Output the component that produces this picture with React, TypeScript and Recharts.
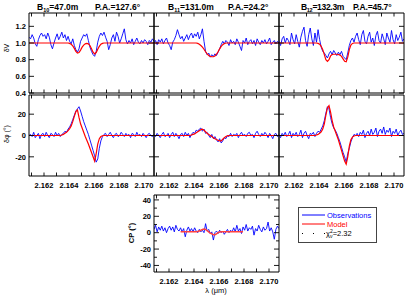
import { LineChart, Line, XAxis, YAxis } from "recharts";

const FONT = '"Liberation Sans", Arial, Helvetica, sans-serif';

// wavelength grid (micron)
const wave = [
  2.1608, 2.160925, 2.16105, 2.161175, 2.1613, 2.161425, 2.16155, 2.161675, 2.1618, 2.161925,
  2.16205, 2.162175, 2.1623, 2.162425, 2.16255, 2.162675, 2.1628, 2.162925, 2.16305, 2.163175,
  2.1633, 2.163425, 2.16355, 2.163675, 2.1638, 2.163925, 2.16405, 2.164175, 2.1643, 2.164425,
  2.16455, 2.164675, 2.1648, 2.164925, 2.16505, 2.165175, 2.1653, 2.165425, 2.16555, 2.165675,
  2.1658, 2.165925, 2.16605, 2.166175, 2.1663, 2.166425, 2.16655, 2.166675, 2.1668, 2.166925,
  2.16705, 2.167175, 2.1673, 2.167425, 2.16755, 2.167675, 2.1678, 2.167925, 2.16805, 2.168175,
  2.1683, 2.168425, 2.16855, 2.168675, 2.1688, 2.168925, 2.16905, 2.169175, 2.1693, 2.169425,
  2.16955, 2.169675, 2.1698, 2.169925, 2.17005, 2.170175, 2.1703, 2.170425, 2.17055, 2.170675,
  2.1708,
];
const modelWave = [wave[0], ...wave.slice(20, 51), wave[80]];
const cpModelWave = wave.slice(17, 58);

const xTicks = [2.161, 2.162, 2.163, 2.164, 2.165, 2.166, 2.167, 2.168, 2.169, 2.17];
const visTicks = [0.4, 0.6, 0.8, 1.0, 1.2];
const phiTicks = [-20, 0, 20];
const cpTicks = [-40, -30, -20, -10, 0, 10, 20, 30, 40];

const baseSub = ["10", "11", "12"];
const baseLen = ["47.0m", "131.0m", "132.3m"];
const posAngle = ["127.6", "24.2", "45.7"];

// visibility (dV)
const visObs10 = [
  1.07, 1.05, 1.1, 1.06, 0.99, 0.96, 1.04, 1.09, 1.12, 1.08, 1.1,
  1.05, 1.12, 1.07, 0.98, 0.93, 1.0, 1.06, 1.11, 1.04, 1.08,
  1.13, 1.06, 1.1, 1.03, 1.08, 1.02, 0.99, 1.05, 0.97, 0.92,
  0.89, 0.93, 1.02, 1.06, 1.1, 1.08, 1.11, 1.03, 0.95, 0.9,
  0.86, 0.84, 0.9, 1.01, 1.08, 1.12, 1.09, 1.13, 1.07, 1.02,
  0.92, 0.98, 1.06, 1.1, 1.02, 1.13, 1.08, 1.0, 1.05, 1.11,
  1.17, 1.04, 0.99, 1.03, 1.0, 1.05, 0.98, 1.02, 1.06, 1.01,
  0.99, 1.03, 1.0, 1.04, 1.02, 0.98, 1.03, 1.01, 1.05, 1.02,
];
const visObs11 = [
  1.0, 1.03, 0.98, 1.04, 1.01, 1.05, 0.99, 1.03, 1.06, 1.0, 0.97,
  0.92, 1.01, 1.04, 1.09, 1.16, 1.1, 1.05, 1.08, 1.02, 1.06,
  1.1, 1.04, 1.09, 1.12, 1.06, 1.11, 1.08, 1.13, 1.05, 1.1,
  1.17, 1.02, 0.9, 0.86, 0.88, 0.83, 0.86, 0.84, 0.87, 0.85,
  0.89, 0.93, 0.98, 1.02, 0.99, 1.03, 1.01, 0.97, 1.04, 1.0,
  1.02, 0.98, 1.05, 1.01, 0.96, 0.91, 1.03, 1.0, 1.06, 0.98,
  1.02, 1.04, 0.99, 1.03, 0.97, 1.05, 1.01, 0.98, 1.03, 1.0,
  1.04, 0.99, 1.02, 1.06, 0.98, 1.01, 1.03, 0.99, 1.02, 1.0,
];
const visObs12 = [
  1.02, 0.97, 1.05, 1.08, 1.0, 1.06, 1.03, 0.98, 1.12, 1.04, 0.99,
  1.1, 1.02, 0.95, 1.07, 1.14, 1.19, 1.03, 0.96, 1.1, 1.18,
  1.05, 0.97, 1.12, 1.01, 1.16, 1.04, 0.95, 0.9, 0.88, 0.85,
  0.82, 0.87, 0.9, 0.86, 0.91, 0.88, 0.85, 0.89, 0.86, 0.9,
  0.84, 0.82, 0.8, 0.88, 0.97, 1.03, 1.06, 1.01, 1.08, 1.12,
  1.04, 0.98, 1.1, 1.15, 1.02, 0.99, 1.08, 1.13, 1.01, 1.06,
  0.97, 1.09, 1.14, 1.03, 1.0, 1.11, 1.05, 0.98, 1.12, 1.06,
  1.01, 1.15, 1.04, 0.99, 1.1, 1.03, 1.07, 1.13, 1.02, 1.05,
];
const visMod10 = [
  1, 1, 1, 1, 1, 1, 1,
  0.995, 0.985, 0.965, 0.935, 0.9, 0.88, 0.885, 0.915, 0.95, 0.975, 0.99,
  0.995, 0.99, 0.97, 0.93, 0.89, 0.87, 0.885, 0.925, 0.96, 0.985, 0.995,
  1, 1, 1, 1,
];
const visMod11 = [
  1, 1, 1, 1, 1, 1, 1, 1, 1,
  0.995, 0.985, 0.97, 0.95, 0.925, 0.895, 0.87, 0.85, 0.84, 0.835,
  0.835, 0.845, 0.865, 0.895, 0.93, 0.96, 0.98, 0.993,
  1, 1, 1, 1, 1, 1,
];
const visMod12 = [
  1, 1, 1, 1, 1, 1,
  0.995, 0.985, 0.96, 0.92, 0.86, 0.8, 0.78, 0.8, 0.845, 0.862, 0.865, 0.865,
  0.865, 0.862, 0.855, 0.84, 0.81, 0.78, 0.775, 0.83, 0.92, 0.975, 0.995,
  1, 1, 1, 1,
];

// differential phase (deg)
const phiObs10 = [
  0, 1, -1, 3, -2, 0, 2, -3, 1, 2, -1,
  3, 0, -2, 2, 1, -1, 3, 0, 2, -1,
  1, 2, 4, 3, 6, 8, 11, 15, 19, 23,
  25, 27, 23, 18, 13, 9, 5, 1, -4, -9,
  -14, -19, -25, -22, -12, -5, -1, 1, 2, -1,
  1, 3, 0, -2, 1, 2, -1, 0, 3, 1,
  -1, 2, 0, 1, -2, 2, 1, -1, 3, 0,
  1, -1, 2, 0, -2, 1, 2, 0, -1, 1,
];
const phiObs11 = [
  1, -1, 2, 0, -2, 1, 3, -1, 0, 2, -2,
  1, 3, -1, 2, 0, -3, 1, 2, -1, 3,
  0, 2, -2, 1, 3, 2, 5, 4, 6, 7,
  4, 6, 2, 3, 0, -2, 1, -3, -1, -4,
  -6, -3, -7, -5, -2, -3, 0, -1, 2, -1,
  1, 0, 2, -2, 1, 3, 0, 1, -1, 2,
  3, 0, 1, -2, 2, 4, 1, -1, 2, 0,
  3, 1, -2, 2, 0, -3, 1, 2, -1, 1,
];
const phiObs12 = [
  1, -2, 2, 0, 3, -1, 1, 4, -2, 2, 0,
  3, -1, 1, 5, -2, 2, 4, 0, -3, 2,
  1, 3, -1, 2, 4, 3, 6, 9, 14, 21,
  27, 25, 17, 11, 7, 5, 2, -2, -6, -11,
  -16, -20, -25, -17, -12, -6, -2, 1, 0, 2,
  -1, 3, 1, 5, -2, 2, 4, 0, 6, 1,
  3, 7, -1, 4, 6, 2, 8, 1, 5, 3,
  7, -1, 4, 2, 6, 0, 3, 5, 1, 2,
];
const phiMod10 = [
  0,
  0, 0.5, 1, 2, 3, 4.5, 6.5, 9, 13, 18, 22.5, 24, 17, 11, 7, 3,
  -1, -4.5, -8, -12, -16, -20, -24, -17, -8, -3, -1, -0.3, 0, 0, 0,
  0,
];
const phiMod11 = [
  0,
  0, 0, 0, 0, 0.5, 1, 1.5, 2.5, 3.5, 4.5, 5.5, 6, 5, 3.5, 2, 1,
  0, -1, -2, -3, -3.8, -4.5, -5, -5, -3.5, -2, -1, -0.3, 0, 0, 0,
  0,
];
const phiMod12 = [
  0,
  0, 0, 0, 0, 0.5, 1, 2, 3.5, 6, 11, 19, 26, 28, 22, 14, 8,
  4, 0, -4, -9, -14, -19, -24, -27, -20, -10, -4, -1.5, -0.5, 0, 0,
  0,
];

// closure phase (deg)
const cpObs = [
  4, 9, 1, 7, 3, 8, 2, 6, 0, 5, 8,
  3, 7, 1, 9, 4, 2, 6, 1, 5, -5,
  3, 7, 2, 5, 1, 6, 2, 0, 4, 1,
  3, 0, 11, 2, 4, -1, 1, -9, 0, 2,
  -1, 3, 0, 2, -2, 1, 4, 0, 3, 1,
  6, 1, 9, 2, 5, -1, 7, 3, 10, 2,
  6, 4, 8, -3, 5, 2, 9, 4, 1, 7,
  3, 5, 13, 2, 6, 1, -8, 4, 8, 5,
];
const cpMod = [
  1, 1, 1, 1, 1, 1, 1, 1, 1, 1, 1,
  1.5, 2, 3, 4, 4.5, 4, 2.5, 1, -0.5, -1.5, -2.5, -2.5, -1.5, 0, 0.8,
  1, 1, 1, 1, 1, 1, 1, 1, 1, 1, 1, 1, 1, 1, 1,
];

const X_DOMAIN: [number, number] = [2.1608, 2.1708];
const AXIS = { stroke: "#000", strokeWidth: 1 };

function xTick(side: "top" | "bottom", label: boolean) {
  return (props: any) => {
    const { x, y, payload } = props;
    const v = payload.value as number;
    const dir = side === "bottom" ? -1 : 1;
    const major = Math.round(v * 1000) % 2 === 0;
    return (
      <g>
        <line x1={x} x2={x} y1={y} y2={y + dir * 3.5} stroke="#000" strokeWidth={0.9} />
        {label && major && (
          <text x={x} y={y + 12} textAnchor="middle" fontSize={7.5} fontWeight="bold" fontFamily={FONT} fill="#000">
            {v.toFixed(3)}
          </text>
        )}
      </g>
    );
  };
}

function yTick(side: "left" | "right", major: (v: number) => boolean, label: boolean, digits: number) {
  return (props: any) => {
    const { x, y, payload } = props;
    const v = payload.value as number;
    const dir = side === "left" ? 1 : -1;
    const big = major(v);
    return (
      <g>
        <line x1={x} x2={x + dir * (big ? 5 : 3)} y1={y} y2={y} stroke="#000" strokeWidth={0.9} />
        {label && big && (
          <text x={x - 3} y={y + 2.7} textAnchor="end" fontSize={7.5} fontWeight="bold" fontFamily={FONT} fill="#000">
            {v.toFixed(digits)}
          </text>
        )}
      </g>
    );
  };
}

type PanelProps = {
  left: number; top: number; w: number; h: number;
  padL: number; padR: number; padT: number; padB: number;
  yDomain: [number, number]; yTicks: number[]; yMajor: (v: number) => boolean; digits: number;
  yLabel: boolean; xLabel: boolean;
  obs: number[]; model: number[]; mWave: number[];
  modelColor?: string; modelWidth?: number;
};

function Panel(p: PanelProps) {
  const obsData = wave.map((w, i) => ({ w, v: p.obs[i] }));
  const modelData = p.mWave.map((w, i) => ({ w, v: p.model[i] }));
  return (
    <div style={{ position: "absolute", left: p.left - p.padL, top: p.top - p.padT }}>
      <LineChart
        width={p.w + p.padL + p.padR}
        height={p.h + p.padT + p.padB}
        margin={{ top: 0, right: 0, bottom: 0, left: 0 }}
      >
        <XAxis xAxisId="b" dataKey="w" type="number" domain={X_DOMAIN} allowDataOverflow ticks={xTicks}
          interval={0} height={p.padB} tickSize={0} tickMargin={0} tickLine={false} axisLine={AXIS}
          tick={xTick("bottom", p.xLabel)} />
        <XAxis xAxisId="t" orientation="top" dataKey="w" type="number" domain={X_DOMAIN} allowDataOverflow
          ticks={xTicks} interval={0} height={p.padT} tickSize={0} tickMargin={0} tickLine={false}
          axisLine={AXIS} tick={xTick("top", false)} />
        <YAxis yAxisId="l" type="number" domain={p.yDomain} allowDataOverflow ticks={p.yTicks} interval={0}
          width={p.padL} tickSize={0} tickMargin={0} tickLine={false} axisLine={AXIS}
          tick={yTick("left", p.yMajor, p.yLabel, p.digits)} />
        <YAxis yAxisId="r" orientation="right" type="number" domain={p.yDomain} allowDataOverflow
          ticks={p.yTicks} interval={0} width={p.padR} tickSize={0} tickMargin={0} tickLine={false}
          axisLine={AXIS} tick={yTick("right", p.yMajor, false, p.digits)} />
        <Line xAxisId="b" yAxisId="l" data={obsData} dataKey="v" type="linear" stroke="#0000ff"
          strokeWidth={0.9} dot={false} isAnimationActive={false} />
        <Line xAxisId="b" yAxisId="l" data={modelData} dataKey="v" type="linear"
          stroke={p.modelColor ?? "#ff0000"} strokeWidth={p.modelWidth ?? 1.2} dot={false}
          isAnimationActive={false} />
      </LineChart>
    </div>
  );
}

const COLS = [29, 154, 279];
const PW = 125;
const all = () => true;

export default function App() {
  const visObs = [visObs10, visObs11, visObs12];
  const visMod = [visMod10, visMod11, visMod12];
  const phiObs = [phiObs10, phiObs11, phiObs12];
  const phiMod = [phiMod10, phiMod11, phiMod12];
  const titleX = [[37, 95], [168, 228], [301, 353]];
  return (
    <div style={{ position: "absolute", left: 0, top: 0, width: 407, height: 295, background: "#fff", fontFamily: FONT }}>
      {COLS.map((cx, i) => (
        <Panel key={"v" + i} left={cx} top={13} w={PW} h={80} padL={i === 0 ? 29 : 2} padR={2} padT={2}
          padB={i === 0 ? 8 : 2}
          yDomain={[0.4, 1.36]} yTicks={visTicks} yMajor={all} digits={1} yLabel={i === 0} xLabel={false}
          obs={visObs[i]} model={visMod[i]} mWave={modelWave} />
      ))}
      {COLS.map((cx, i) => (
        <Panel key={"p" + i} left={cx} top={95} w={PW} h={81} padL={i === 0 ? 29 : 2} padR={2} padT={2} padB={16}
          yDomain={[-38, 38]} yTicks={phiTicks} yMajor={all} digits={0} yLabel={i === 0} xLabel={true}
          obs={phiObs[i]} model={phiMod[i]} mWave={modelWave} />
      ))}
      <Panel left={154} top={195} w={PW} h={77} padL={26} padR={2} padT={2} padB={16}
        yDomain={[-48, 46]} yTicks={cpTicks} yMajor={(v) => v % 20 === 0} digits={0} yLabel={true} xLabel={true}
        obs={cpObs} model={cpMod} mWave={cpModelWave} modelColor="#ff4040" modelWidth={1.5} />
      <svg width={407} height={295} style={{ position: "absolute", left: 0, top: 0, pointerEvents: "none" }}
        fontFamily={FONT}>
        {titleX.map((tx, i) => (
          <g key={i} fontSize={8.5} fontWeight="bold" fill="#000">
            <text x={tx[0]} y={9.5} letterSpacing={i === 2 ? -0.3 : 0}>
              B<tspan fontSize={5.5} dy={2}>{baseSub[i]}</tspan>
              <tspan dy={-2}>={baseLen[i]}</tspan>
            </text>
            <text x={tx[1]} y={9.5} letterSpacing={i === 2 ? -0.2 : 0}>P.A.={posAngle[i]}°</text>
          </g>
        ))}
        <text transform="translate(8.5,48) rotate(-90)" textAnchor="middle" fontSize={7} fill="#000">δV</text>
        <text transform="translate(8.5,134) rotate(-90)" textAnchor="middle" fontSize={7} fill="#000">δφ (°)</text>
        <text transform="translate(133.5,233) rotate(-90)" textAnchor="middle" fontSize={7.5} fontWeight="bold" fill="#000">CP (°)</text>
        <text x={216} y={293} textAnchor="middle" fontSize={7.5} fill="#000">λ (μm)</text>
        <rect x={298.5} y={207.5} width={78} height={35} fill="#fff" stroke="#444" strokeWidth={1} />
        <line x1={302} x2={325} y1={215} y2={215} stroke="#0000ff" strokeWidth={1} />
        <text x={327} y={218} fontSize={7.5} fill="#0000ff">Observations</text>
        <line x1={302} x2={325} y1={224} y2={224} stroke="#ff0000" strokeWidth={1} />
        <text x={327} y={227} fontSize={7.5} fill="#ff0000">Model</text>
        <line x1={302} x2={325} y1={233.5} y2={233.5} stroke="#000" strokeWidth={1} strokeDasharray="1 10" />
        <text x={326} y={236} fontSize={7.5} fill="#000">
          χ<tspan fontSize={5} dy={1.5}>ν</tspan><tspan fontSize={5} dx={-2.5} dy={-5}>2</tspan>
          <tspan fontSize={7.5} dy={3.5}>=2.32</tspan>
        </text>
      </svg>
    </div>
  );
}
